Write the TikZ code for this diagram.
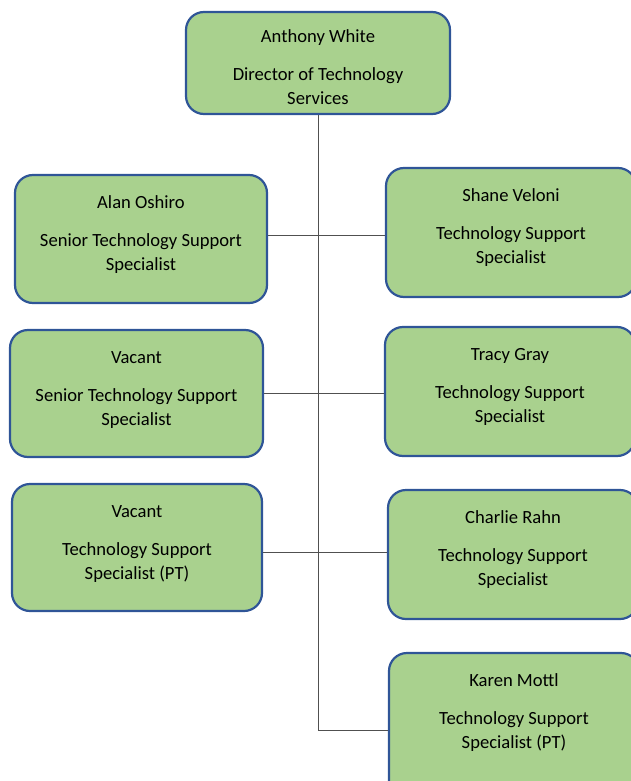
\documentclass[tikz,border=0pt]{standalone}
\usepackage{fontspec}
\setmainfont{Carlito}
\usepackage{tikz}
\definecolor{boxgreen}{RGB}{169,209,142}
\definecolor{boxblue}{RGB}{47,85,151}
\definecolor{linegray}{RGB}{80,80,80}

% name on top, title below, pinned to the top of the box
\newlength{\postgap}
\setlength{\postgap}{17pt}
\newcommand{\post}[3][128pt]{\parbox[c][#1][t]{240pt}{\centering\vspace*{\postgap}\strut #2\\[14pt]#3}}

\begin{document}
\begin{tikzpicture}[x=1pt,y=-1pt,
    post/.style={draw=boxblue, line width=2.2pt, fill=boxgreen, rounded corners=18pt,
        inner sep=0pt, minimum width=250pt, font=\fontsize{18.6}{24}\selectfont},
    link/.style={draw=linegray, line width=0.8pt}]
\useasboundingbox (0,0) rectangle (631,781);
\clip (0,0) rectangle (631,781);

% Director
\node[post, minimum width=264pt] (white) at (318,63)
    {\setlength{\postgap}{14pt}\post[102pt]{Anthony White}{Director of Technology\\Services}};

% Left column
\node[post, minimum width=252pt] (oshiro) at (141,239)
    {\post{Alan Oshiro}{Senior Technology Support\\Specialist}};
\node[post, minimum width=253pt] (vacantA) at (136.5,393.5)
    {\post[127pt]{Vacant}{Senior Technology Support\\Specialist}};
\node[post] (vacantB) at (137,547.5)
    {\post[127pt]{Vacant}{Technology Support\\Specialist (PT)}};

% Right column
\node[post] (veloni) at (511,232.5)
    {\post[129pt]{Shane Veloni}{Technology Support\\Specialist}};
\node[post] (gray) at (510,391.5)
    {\post[129pt]{Tracy Gray}{Technology Support\\Specialist}};
\node[post] (rahn) at (513,554.5)
    {\post[129pt]{Charlie Rahn}{Technology Support\\Specialist}};
\node[post] (mottl) at (514,730)
    {\post[154pt]{Karen Mottl}{Technology Support\\Specialist (PT)}};

% Spine and rows
\draw[link] (white.south) -- (white.south |- mottl.west) -- (mottl.west);
\draw[link] ([yshift=4pt]oshiro.east) -- ([yshift=4pt]oshiro.east -| veloni.west);
\draw[link] (vacantA.east) -- (vacantA.east -| gray.west);
\draw[link] ([yshift=-4.5pt]vacantB.east) -- ([yshift=-4.5pt]vacantB.east -| rahn.west);
\end{tikzpicture}
\end{document}
